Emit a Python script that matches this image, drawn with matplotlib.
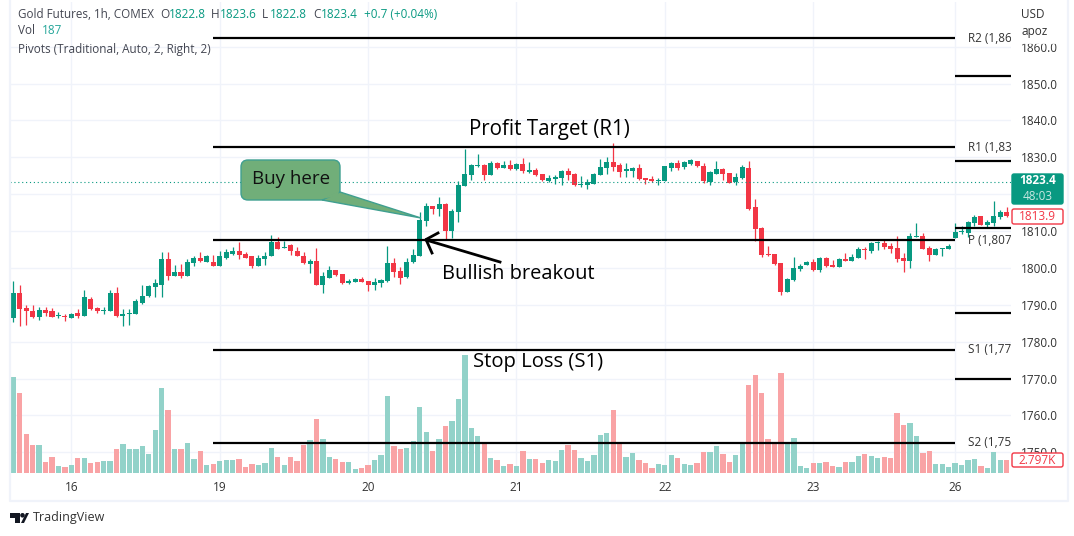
import matplotlib
matplotlib.use("Agg")
import matplotlib.pyplot as plt
from matplotlib.patches import FancyBboxPatch, Polygon, Rectangle, Circle

plt.rcParams['font.family'] = ['Open Sans', 'DejaVu Sans']

# hourly candles
opens = [1786.3, 1793.3, 1789.2, 1788.4, 1786.8, 1788.7, 1788.2, 1787.0, 1787.0, 1786.3, 1787.9, 1787.1, 1791.7, 1789.2, 1788.2, 1788.4,
         1793.3, 1787.1, 1787.4, 1787.6, 1790.6, 1792.5, 1794.9, 1795.5, 1802.5, 1797.9, 1799.0, 1797.7, 1801.4, 1802.8, 1801.7, 1801.7,
         1800.6, 1802.8, 1803.9, 1804.7, 1803.9, 1803.1, 1800.4, 1802.5, 1803.3, 1806.9, 1805.5, 1806.1, 1804.7, 1803.3, 1801.2, 1802.0,
         1795.5, 1797.4, 1799.5, 1798.4, 1795.9, 1796.2, 1797.0, 1796.5, 1795.4, 1795.9, 1796.5, 1801.4, 1799.2, 1797.6, 1801.6, 1803.3,
         1812.7, 1816.8, 1816.0, 1817.3, 1810.0, 1815.2, 1822.2, 1825.2, 1827.6, 1827.9, 1825.2, 1828.5, 1827.1, 1827.9, 1826.8, 1828.2,
         1826.0, 1826.6, 1825.5, 1823.6, 1824.1, 1824.4, 1826.3, 1825.5, 1822.6, 1822.5, 1822.8, 1825.2, 1827.1, 1828.7, 1827.9, 1826.3,
         1826.3, 1827.1, 1824.4, 1824.1, 1823.6, 1823.6, 1827.1, 1828.5, 1827.3, 1828.1, 1829.0, 1827.7, 1823.3, 1825.5, 1826.8, 1825.7,
         1823.3, 1824.4, 1827.1, 1816.5, 1810.8, 1803.7, 1803.8, 1801.4, 1793.5, 1796.7, 1799.7, 1800.8, 1801.6, 1799.5, 1802.7, 1800.8,
         1800.3, 1802.4, 1801.9, 1802.7, 1805.1, 1804.6, 1806.7, 1806.8, 1806.0, 1805.4, 1802.7, 1801.9, 1808.4, 1808.7, 1805.4, 1803.5,
         1805.1, 1805.1, 1808.1, 1809.8, 1809.5, 1812.2, 1814.1, 1811.7, 1812.2, 1813.8, 1815.2]
highs = [1796.4, 1795.5, 1790.0, 1790.0, 1789.5, 1789.5, 1789.2, 1788.1, 1787.6, 1787.9, 1789.0, 1794.1, 1792.0, 1789.5, 1789.5, 1793.9,
         1794.7, 1789.0, 1789.0, 1791.7, 1795.5, 1795.5, 1797.1, 1804.4, 1804.2, 1800.9, 1801.2, 1802.3, 1803.1, 1804.2, 1803.6, 1803.6,
         1804.7, 1805.0, 1805.8, 1807.1, 1804.2, 1803.3, 1803.6, 1804.2, 1808.8, 1808.5, 1807.4, 1806.6, 1805.8, 1804.4, 1802.3, 1805.5,
         1799.0, 1800.6, 1799.5, 1798.4, 1797.0, 1797.3, 1797.6, 1796.5, 1797.3, 1797.0, 1806.0, 1802.7, 1800.3, 1802.7, 1805.1, 1815.2,
         1817.6, 1816.8, 1819.2, 1817.6, 1816.0, 1823.6, 1832.2, 1828.2, 1830.9, 1828.2, 1829.0, 1828.7, 1829.0, 1829.3, 1828.5, 1829.8,
         1828.7, 1827.1, 1825.5, 1825.2, 1825.2, 1826.6, 1827.1, 1825.7, 1824.9, 1824.1, 1825.7, 1829.5, 1830.1, 1833.9, 1828.5, 1828.5,
         1827.4, 1828.2, 1824.4, 1824.9, 1824.4, 1827.6, 1828.7, 1829.3, 1829.0, 1829.4, 1829.0, 1828.4, 1826.3, 1829.0, 1827.1, 1825.7,
         1825.7, 1827.9, 1829.0, 1818.7, 1811.1, 1806.0, 1803.8, 1801.4, 1797.3, 1803.0, 1801.1, 1801.9, 1802.4, 1803.0, 1803.0, 1802.2,
         1802.7, 1804.0, 1803.8, 1805.7, 1805.7, 1807.0, 1807.3, 1807.9, 1806.8, 1808.7, 1804.1, 1809.5, 1812.2, 1809.5, 1806.0, 1805.4,
         1805.4, 1806.5, 1812.2, 1811.4, 1812.7, 1814.4, 1814.1, 1813.0, 1818.2, 1815.7, 1816.5]
lows = [1785.3, 1784.2, 1784.6, 1786.4, 1786.0, 1787.1, 1786.8, 1786.4, 1785.7, 1786.3, 1786.3, 1787.1, 1788.7, 1787.9, 1787.6, 1788.2,
        1786.8, 1784.2, 1784.4, 1787.4, 1790.3, 1792.0, 1792.2, 1792.2, 1796.6, 1797.9, 1797.4, 1797.7, 1800.4, 1801.7, 1801.7, 1800.4,
        1800.4, 1802.3, 1803.6, 1802.5, 1802.8, 1800.1, 1800.4, 1800.9, 1803.3, 1805.2, 1805.5, 1803.6, 1803.1, 1801.0, 1798.7, 1795.5,
        1793.3, 1797.4, 1797.9, 1795.7, 1795.7, 1796.2, 1796.2, 1793.8, 1794.0, 1794.9, 1796.2, 1797.6, 1795.7, 1797.3, 1801.4, 1803.3,
        1811.4, 1814.6, 1814.1, 1807.6, 1808.1, 1812.5, 1822.2, 1823.8, 1827.4, 1823.9, 1825.2, 1826.8, 1827.1, 1826.6, 1826.6, 1825.7,
        1825.7, 1825.0, 1823.6, 1823.3, 1822.8, 1822.5, 1823.8, 1822.2, 1822.0, 1821.4, 1822.8, 1825.2, 1825.5, 1826.3, 1824.7, 1824.7,
        1824.7, 1823.8, 1822.8, 1823.3, 1822.5, 1823.6, 1826.3, 1826.6, 1826.8, 1827.9, 1827.3, 1823.0, 1822.5, 1825.5, 1823.8, 1823.0,
        1822.5, 1824.1, 1815.7, 1807.3, 1803.0, 1803.3, 1800.8, 1792.7, 1793.5, 1796.5, 1799.2, 1800.8, 1799.2, 1798.9, 1800.3, 1800.3,
        1800.3, 1801.9, 1801.9, 1802.7, 1802.4, 1804.1, 1804.9, 1805.1, 1804.1, 1801.6, 1798.9, 1800.0, 1808.4, 1805.1, 1801.9, 1803.5,
        1803.3, 1805.1, 1808.1, 1809.2, 1808.4, 1811.4, 1811.7, 1811.1, 1811.4, 1813.3, 1813.8]
closes = [1793.3, 1789.0, 1788.2, 1786.8, 1788.7, 1787.9, 1786.8, 1787.2, 1786.7, 1787.6, 1787.1, 1792.0, 1789.0, 1788.2, 1788.7, 1793.3,
          1787.1, 1787.6, 1787.9, 1790.9, 1792.5, 1795.2, 1795.8, 1802.5, 1797.7, 1799.0, 1797.7, 1801.7, 1802.8, 1802.0, 1803.1, 1800.4,
          1803.1, 1804.2, 1804.7, 1803.6, 1802.8, 1800.6, 1802.8, 1803.3, 1807.1, 1805.2, 1805.8, 1804.7, 1803.1, 1801.4, 1802.0, 1795.5,
          1797.9, 1799.5, 1798.2, 1795.9, 1796.5, 1797.0, 1796.2, 1795.4, 1796.2, 1796.7, 1801.4, 1798.9, 1797.3, 1801.6, 1803.5, 1813.0,
          1816.8, 1816.0, 1817.3, 1810.0, 1815.4, 1822.5, 1825.5, 1827.9, 1827.8, 1825.2, 1828.5, 1827.1, 1827.9, 1826.8, 1828.2, 1826.3,
          1826.6, 1825.2, 1823.8, 1824.4, 1824.7, 1826.3, 1825.2, 1822.5, 1822.8, 1823.3, 1825.5, 1827.4, 1828.7, 1827.4, 1826.0, 1826.8,
          1827.1, 1824.1, 1823.8, 1823.6, 1823.8, 1827.6, 1828.5, 1827.1, 1828.6, 1829.2, 1827.7, 1823.6, 1826.0, 1826.8, 1825.5, 1823.0,
          1824.7, 1827.4, 1815.9, 1810.6, 1803.5, 1803.5, 1801.1, 1793.5, 1797.0, 1800.0, 1800.5, 1801.6, 1799.5, 1802.7, 1800.5, 1800.3,
          1802.4, 1801.9, 1803.0, 1805.1, 1804.9, 1806.8, 1806.9, 1805.7, 1805.1, 1802.4, 1801.9, 1808.7, 1808.7, 1805.1, 1803.5, 1805.1,
          1805.3, 1806.0, 1809.8, 1810.0, 1812.5, 1813.8, 1811.7, 1812.5, 1814.1, 1815.2, 1814.1]
# volume in thousands
volumes = [20.6, 17.2, 8.4, 6.0, 6.0, 2.4, 3.4, 1.5, 1.3, 1.7, 3.2, 3.2, 2.2, 2.4, 2.6, 2.6, 5.2, 6.2, 5.2, 5.2, 5.8, 4.1, 9.2, 18.3, 13.6, 5.2,
           5.2, 6.5, 3.0, 4.7, 1.7, 1.9, 2.6, 2.8, 2.8, 3.0, 1.3, 1.9, 1.7, 2.2, 5.4, 3.4, 1.7, 3.4, 2.6, 6.0, 7.1, 11.6, 7.3, 3.4, 3.0, 2.4,
           2.4, 0.9, 1.1, 1.7, 2.8, 3.9, 16.6, 5.8, 5.2, 5.4, 6.9, 14.2, 8.8, 4.7, 7.3, 10.1, 11.2, 15.9, 25.4, 9.7, 8.0, 6.5, 3.2, 2.8, 1.5,
           1.9, 1.5, 4.7, 3.0, 3.0, 2.2, 2.8, 2.6, 4.9, 6.0, 4.9, 3.2, 2.6, 3.9, 8.2, 8.6, 13.6, 6.2, 3.4, 4.3, 2.8, 2.2, 1.1, 1.9, 1.7, 3.9,
           3.2, 1.9, 1.7, 2.2, 4.5, 4.5, 5.8, 4.1, 2.4, 3.9, 6.5, 18.9, 21.1, 17.2, 7.3, 6.5, 21.5, 6.7, 7.5, 1.5, 1.1, 2.2, 2.2, 2.4, 1.5,
           1.3, 2.4, 2.4, 3.7, 4.1, 3.7, 3.2, 3.4, 3.2, 12.9, 10.3, 10.8, 8.0, 4.3, 4.7, 1.9, 1.9, 1.3, 2.2, 1.7, 2.8, 3.0, 1.5, 1.1, 4.5, 2.8, 2.8]

date_ticks = [9, 32, 55, 78, 101, 124, 146]
date_labels = ['16', '19', '20', '21', '22', '23', '26']
price_ticks = [1750, 1760, 1770, 1780, 1790, 1800, 1810, 1820, 1830, 1840, 1850, 1860]

# pivot levels: this period (bars 31-146) and next period (146 on)
pivot_names = ['R2', 'R1', 'P', 'S1', 'S2']
pivots_old = [1862.3, 1832.7, 1807.5, 1777.8, 1752.6]
pivots_new = [1852.0, 1829.0, 1810.8, 1787.8, 1770.0]
last_price = 1823.4
prev_close = 1813.9

W, H = 1074, 536
GREEN, RED = '#089981', '#f23645'
VOL_GREEN, VOL_RED = '#92d2c9', '#f9a3a5'
GRID = '#f0f3fa'
TEXT = '#434651'

fig = plt.figure(figsize=(W / 100, H / 100), dpi=100, facecolor='white')
rect = [10 / W, 1 - 473 / H, 1001 / W, 471 / H]
xlim = (-0.51, 154.66)
ylim = (1744.4, 1872.1)

# back axes only holds the grid and tick labels
ax_grid = fig.add_axes(rect, zorder=1)
ax_grid.set_xlim(xlim)
ax_grid.set_ylim(ylim)
ax_grid.set_xticks(date_ticks)
ax_grid.set_xticklabels(date_labels, fontsize=8.5, color='#333333')
ax_grid.yaxis.tick_right()
ax_grid.set_yticks(price_ticks)
ax_grid.set_yticklabels(['%.1f' % p for p in price_ticks], fontsize=8.5, color='#333333', va='center_baseline')
ax_grid.tick_params(axis='y', length=0, pad=7)
ax_grid.tick_params(axis='x', length=0, pad=6)
ax_grid.grid(True, color=GRID, lw=1)
for s in ax_grid.spines.values():
    s.set_visible(False)

x = list(range(len(opens)))
colors = [GREEN if c >= o else RED for o, c in zip(opens, closes)]
vol_colors = [VOL_GREEN if c >= o else VOL_RED for o, c in zip(opens, closes)]

ax_vol = fig.add_axes(rect, zorder=2)
ax_vol.patch.set_visible(False)
ax_vol.set_xlim(xlim)
ax_vol.set_ylim(0, 101.3)
ax_vol.bar(x, volumes, width=0.82, color=vol_colors)
ax_vol.axis('off')

ax = fig.add_axes(rect, zorder=3)
ax.patch.set_visible(False)
ax.set_xlim(xlim)
ax.set_ylim(ylim)
ax.axis('off')
ax.vlines(x, lows, highs, colors=colors, lw=0.9)
ax.bar(x, [abs(c - o) for o, c in zip(opens, closes)], bottom=[min(o, c) for o, c in zip(opens, closes)],
       width=0.78, color=colors)
ax.axhline(last_price, color=GREEN, lw=0.8, ls=(0, (1, 2.5)))
for name, old, new in zip(pivot_names, pivots_old, pivots_new):
    ax.plot([31, 146], [old, old], color='black', lw=1.6, solid_capstyle='butt')
    ax.plot([146, xlim[1]], [new, new], color='black', lw=1.6, solid_capstyle='butt')
    ax.text(146 + 2, old, '%s (%s)' % (name, format(old, ',.1f')), fontsize=8.5, color='#333333',
            va='center', clip_on=True)

# overlay in pixel coordinates for the chrome and drawn-on notes
ov = fig.add_axes([0, 0, 1, 1], zorder=5)
ov.patch.set_visible(False)
ov.set_xlim(0, W)
ov.set_ylim(H, 0)
ov.axis('off')

ov.plot([10, 10, 1068, 1068], [0, 501, 501, 0], color=GRID, lw=1.6)

# header legend
ov.text(18, 15, 'Gold Futures, 1h, COMEX', fontsize=8.4, color=TEXT, va='center')
for px_l, px_v, lab, val in [(160, 169, 'O', '1822.8'), (211, 220, 'H', '1823.6'),
                             (262, 270, 'L', '1822.8'), (313, 321, 'C', '1823.4')]:
    ov.text(px_l, 15, lab, fontsize=8.5, color=TEXT, va='center')
    ov.text(px_v, 15, val, fontsize=8.5, color=GREEN, va='center')
ov.text(364, 15, '+0.7 (+0.04%)', fontsize=8.5, color=GREEN, va='center')
ov.text(18, 31, 'Vol', fontsize=8.5, color=TEXT, va='center')
ov.text(42, 31, '187', fontsize=8.5, color='#26a69a', va='center')
ov.text(18, 49, 'Pivots (Traditional, Auto, 2, Right, 2)', fontsize=8.5, color=TEXT, va='center')

# currency box partly hides the 1860 label
ov.add_patch(Rectangle((1012, 6), 52, 38, fc='white', ec='none', alpha=0.9))
ov.text(1021, 14, 'USD', fontsize=8.5, color='#333333', va='center')
ov.text(1021, 32, 'apoz', fontsize=8.5, color='#333333', va='center')

# price tags
ov.add_patch(FancyBboxPatch((1012, 174), 51, 30, boxstyle='round,pad=0,rounding_size=2', fc=GREEN, ec=GREEN, lw=1))
ov.text(1037.5, 181, '%.1f' % last_price, fontsize=8.5, color='white', ha='center', va='center', fontweight='bold')
ov.text(1037.5, 196, '48:03', fontsize=8.5, color='#c8e8e2', ha='center', va='center')
ov.add_patch(FancyBboxPatch((1012, 209), 51, 15, boxstyle='round,pad=0,rounding_size=2', fc='white', ec=RED, lw=1))
ov.text(1037.5, 216.5, '%.1f' % prev_close, fontsize=8.5, color=RED, ha='center', va='center')
ov.add_patch(FancyBboxPatch((1012, 453), 51, 14, boxstyle='round,pad=0,rounding_size=2', fc='white', ec=RED, lw=1))
ov.text(1037.5, 460, '2.797K', fontsize=8.5, color=RED, ha='center', va='center')

# drawn-on notes
ov.text(549, 130, 'Profit Target (R1)', fontsize=14.8, color='black', ha='center', va='center')
ov.text(538.5, 362, 'Stop Loss (S1)', fontsize=14.6, color='black', ha='center', va='center')
ov.text(518.5, 274, 'Bullish breakout', fontsize=14.4, color='black', ha='center', va='center')

ov.add_patch(FancyBboxPatch((246, 165), 89, 30, boxstyle='round,pad=5,rounding_size=7', fc='#71ae79', ec='#3f9f90', lw=1))
ov.add_patch(Polygon([(322, 200), (340, 192), (421, 218)], closed=True, fc='#71ae79', ec='#3f9f90', lw=1, zorder=3))
ov.add_patch(Polygon([(321, 199), (339, 191), (338, 196)], closed=True, fc='#71ae79', ec='none', zorder=4))
ov.text(291, 179, 'Buy here', fontsize=13.5, color='#111111', ha='center', va='center', zorder=5)

ov.plot([500, 426], [262, 240], color='black', lw=2)
ov.plot([438, 426, 432], [233, 239.5, 253], color='black', lw=2)

# TradingView logo
ov.add_patch(Polygon([(10, 513), (20, 513), (20, 523), (15, 523), (15, 518), (10, 518)], closed=True, fc='#131722', ec='none'))
ov.add_patch(Circle((22.5, 515.3), 2.3, fc='#131722', ec='none'))
ov.add_patch(Polygon([(24, 523), (29, 513), (26, 513), (21, 523)], closed=True, fc='#131722', ec='none'))
ov.text(33, 518, 'TradingView', fontsize=9, color='#333333', va='center')

fig.savefig('out.png', dpi=100)
